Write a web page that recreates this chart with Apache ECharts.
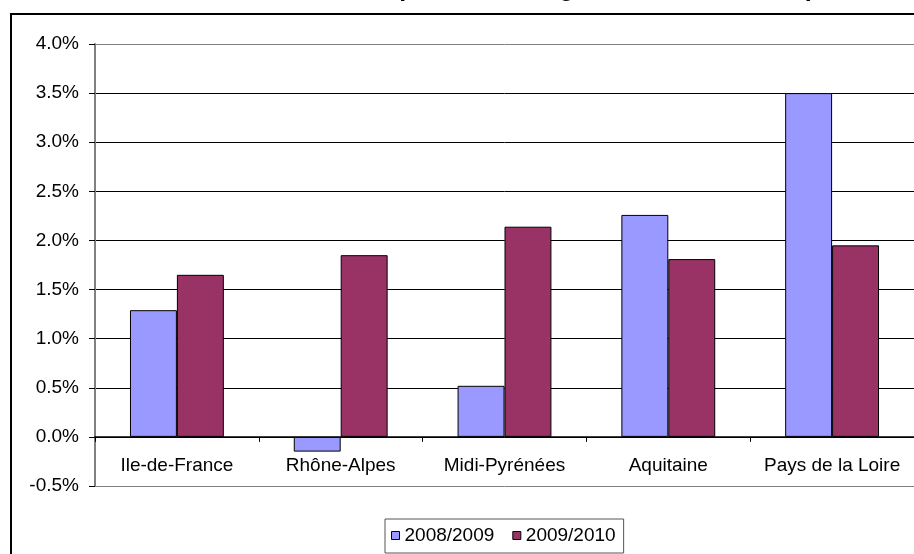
<!DOCTYPE html>
<html>
<head>
<meta charset="utf-8">
<script src="https://cdn.jsdelivr.net/npm/echarts@6/dist/echarts.min.js"></script>
<style>
html,body{margin:0;padding:0;background:#fff;}
#chart{width:914px;height:554px;}
</style>
</head>
<body>
<div id="chart"></div>
<script>
const titleText = "Taux d'évolution annuelle des emplois des 5 régions contribuant le plus à la croissance";
const categories = ["Ile-de-France", "Rhône-Alpes", "Midi-Pyrénées", "Aquitaine", "Pays de la Loire"];
const seriesNames = ["2008/2009", "2009/2010"];
const values0809 = [1.29, -0.15, 0.52, 2.26, 3.50];
const values0910 = [1.65, 1.85, 2.14, 1.81, 1.95];
const yMin = -0.5, yMax = 4.0, yStep = 0.5;

const FONT = "Liberation Sans, Arial, sans-serif";
const chart = echarts.init(document.getElementById('chart'), null, {renderer: 'canvas'});

const gridColors = [];
const nLines = Math.round((yMax - yMin) / yStep) + 1;
for (let i = 0; i < nLines; i++) gridColors.push((i === 0 || i === nLines - 1) ? '#808080' : '#000000');

chart.setOption({
  backgroundColor: '#ffffff',
  animation: false,
  graphic: [
    {
      type: 'rect', z: 0, silent: true,
      shape: {x: 11, y: 14, width: 920, height: 560},
      style: {fill: 'none', stroke: '#000', lineWidth: 2}
    },
    {
      type: 'text', z: 1, silent: true,
      x: 2, y: -11,
      style: {text: titleText, font: 'bold 25px ' + FONT, fill: '#000', textAlign: 'left', textVerticalAlign: 'middle'}
    }
  ],
  grid: {left: 95, top: 44, right: -1, bottom: 68, containLabel: false},
  legend: {
    data: seriesNames,
    left: 385, top: 519,
    orient: 'horizontal',
    icon: 'rect',
    itemWidth: 8, itemHeight: 8,
    itemGap: 18,
    padding: [7, 8, 8, 6],
    borderColor: '#555', borderWidth: 1,
    textStyle: {fontFamily: FONT, fontSize: 19, color: '#000'},
    itemStyle: {borderColor: '#000', borderWidth: 1}
  },
  xAxis: {
    type: 'category',
    data: categories,
    axisLine: {onZero: true, lineStyle: {color: '#000', width: 1.5}},
    axisTick: {show: true, alignWithLabel: false, length: 5, inside: false, lineStyle: {color: '#000', width: 1}},
    axisLabel: {fontFamily: FONT, fontSize: 19, color: '#000', margin: -30, interval: 0},
    splitLine: {show: false}
  },
  yAxis: {
    type: 'value',
    min: yMin, max: yMax, interval: yStep,
    axisLine: {show: true, lineStyle: {color: '#808080', width: 2}},
    axisTick: {show: true, length: 6, lineStyle: {color: '#000', width: 1}},
    axisLabel: {fontFamily: FONT, fontSize: 19, color: '#000', margin: 16,
      formatter: v => v.toFixed(1) + '%'},
    splitLine: {show: true, lineStyle: {color: gridColors, width: 1}}
  },
  series: [
    {
      name: seriesNames[0], type: 'bar', data: values0809,
      barGap: '0%', barCategoryGap: '42.7%',
      itemStyle: {color: '#9999FF', borderColor: '#000', borderWidth: 1}
    },
    {
      name: seriesNames[1], type: 'bar', data: values0910,
      barGap: '0%', barCategoryGap: '42.7%',
      itemStyle: {color: '#993366', borderColor: '#000', borderWidth: 1}
    }
  ]
});
</script>
</body>
</html>
